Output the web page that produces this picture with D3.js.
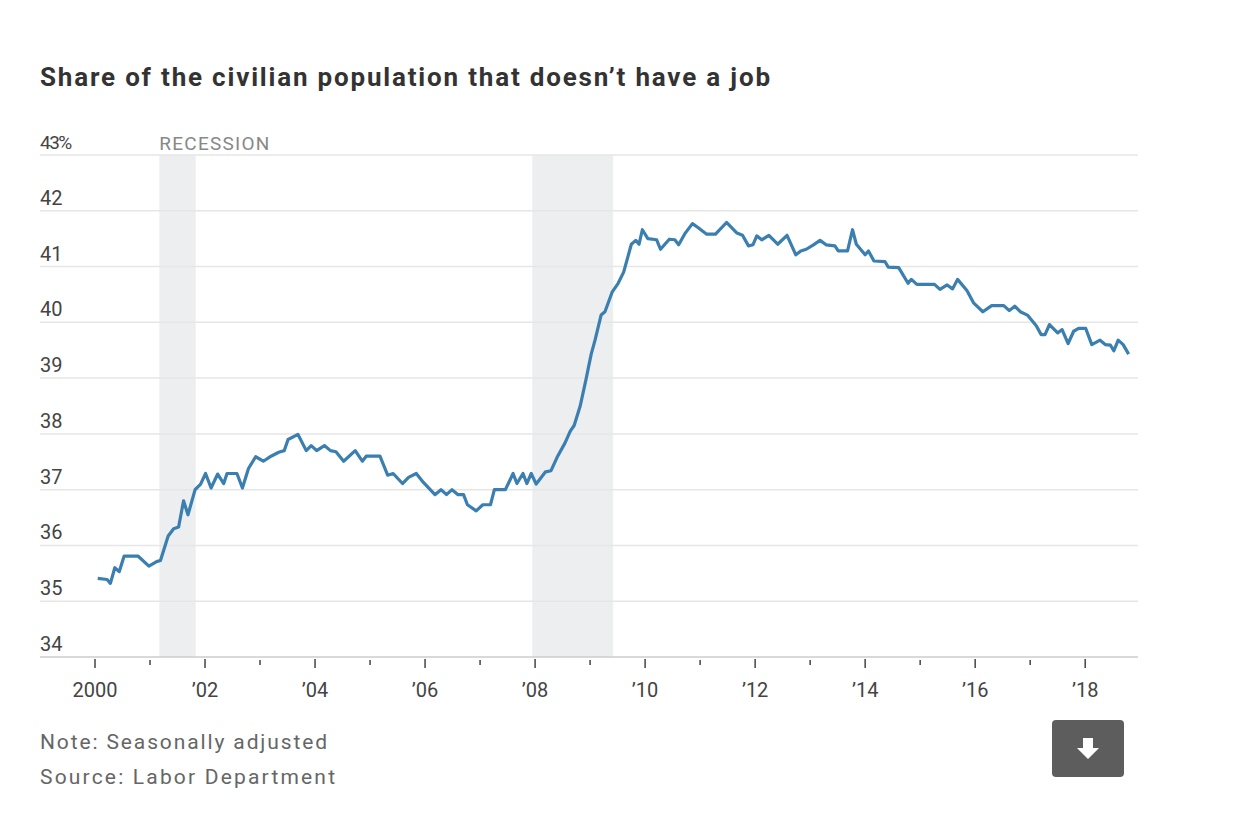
<!DOCTYPE html>
<html><head><meta charset="utf-8">
<script src="https://cdn.jsdelivr.net/npm/d3@7"></script>
<style>body{margin:0;background:#fff}</style></head>
<body><svg id="c" width="1242" height="820"></svg>
<script>
const years = [2000.05,2000.22,2000.28,2000.36,2000.44,2000.53,2000.78,2000.98,2001.12,2001.19,2001.33,2001.43,2001.52,2001.61,2001.69,2001.82,2001.92,2002.01,2002.11,2002.23,2002.34,2002.40,2002.58,2002.68,2002.79,2002.92,2003.06,2003.2,2003.34,2003.44,2003.51,2003.69,2003.84,2003.93,2004.03,2004.17,2004.28,2004.38,2004.52,2004.73,2004.86,2004.93,2005.18,2005.32,2005.42,2005.59,2005.7,2005.84,2005.97,2006.18,2006.29,2006.39,2006.49,2006.6,2006.7,2006.77,2006.93,2007.05,2007.19,2007.26,2007.46,2007.6,2007.67,2007.78,2007.85,2007.93,2008.02,2008.19,2008.29,2008.4,2008.54,2008.64,2008.71,2008.82,2008.92,2009.02,2009.09,2009.2,2009.27,2009.4,2009.51,2009.61,2009.75,2009.83,2009.89,2009.95,2010.05,2010.21,2010.28,2010.44,2010.54,2010.61,2010.73,2010.86,2010.96,2011.12,2011.28,2011.48,2011.67,2011.77,2011.88,2011.96,2012.03,2012.12,2012.25,2012.41,2012.58,2012.74,2012.83,2012.93,2013.06,2013.18,2013.29,2013.45,2013.51,2013.68,2013.77,2013.84,2014.0,2014.06,2014.16,2014.36,2014.42,2014.61,2014.78,2014.84,2014.94,2015.26,2015.36,2015.49,2015.59,2015.68,2015.85,2015.97,2016.14,2016.3,2016.52,2016.62,2016.72,2016.82,2016.95,2017.11,2017.2,2017.27,2017.35,2017.5,2017.58,2017.69,2017.79,2017.88,2018.01,2018.12,2018.27,2018.37,2018.46,2018.52,2018.6,2018.69,2018.79];
const values = [35.41,35.39,35.32,35.6,35.53,35.81,35.81,35.63,35.71,35.73,36.17,36.3,36.33,36.8,36.55,37.0,37.1,37.29,37.03,37.28,37.11,37.29,37.29,37.03,37.38,37.59,37.51,37.6,37.67,37.7,37.9,37.99,37.7,37.79,37.7,37.79,37.7,37.68,37.51,37.7,37.51,37.6,37.6,37.26,37.29,37.11,37.22,37.29,37.13,36.91,37.0,36.91,37.0,36.91,36.91,36.73,36.62,36.73,36.73,37.0,37.0,37.29,37.11,37.29,37.11,37.29,37.1,37.32,37.34,37.58,37.83,38.05,38.15,38.5,38.95,39.43,39.68,40.13,40.19,40.54,40.7,40.9,41.4,41.47,41.4,41.66,41.5,41.48,41.31,41.49,41.48,41.39,41.6,41.77,41.7,41.58,41.58,41.79,41.6,41.56,41.37,41.39,41.55,41.48,41.56,41.4,41.56,41.21,41.28,41.31,41.39,41.47,41.39,41.37,41.28,41.28,41.66,41.4,41.21,41.28,41.1,41.09,40.99,40.98,40.7,40.77,40.68,40.68,40.59,40.67,40.6,40.77,40.57,40.35,40.19,40.3,40.3,40.21,40.29,40.19,40.13,39.94,39.78,39.78,39.96,39.81,39.87,39.62,39.84,39.89,39.89,39.6,39.68,39.6,39.59,39.49,39.68,39.6,39.43];
const recessions = [[2001.17,2001.83],[2007.95,2009.42]];
const yTicks = [34,35,36,37,38,39,40,41,42,43];
const xTicks = [2000,2001,2002,2003,2004,2005,2006,2007,2008,2009,2010,2011,2012,2013,2014,2015,2016,2017,2018];

const svg = d3.select('#c');
const x = d3.scaleLinear().domain([2000,2018.96]).range([95,1138]);
const y = d3.scaleLinear().domain([34,43]).range([657,155]);
const F = 'Roboto, "Noto Sans", sans-serif';

svg.append('text').attr('x',40).attr('y',86).attr('font-family',F).attr('font-weight','bold')
  .attr('font-size',26).attr('fill','#333').attr('textLength',730).attr('lengthAdjust','spacing')
  .text('Share of the civilian population that doesn’t have a job');

svg.selectAll('.rec').data(recessions).enter().append('rect')
  .attr('x',d=>x(d[0])).attr('width',d=>x(d[1])-x(d[0])).attr('y',155).attr('height',657-155).attr('fill','#eceef0');
svg.append('text').attr('x',x(recessions[0][0])).attr('y',150).attr('font-family',F).attr('font-size',19)
  .attr('fill','#888').attr('textLength',110).text('RECESSION');

svg.selectAll('.g').data(yTicks).enter().append('line')
  .attr('x1',40).attr('x2',1138).attr('y1',d=>y(d)).attr('y2',d=>y(d))
  .attr('stroke',d=>d===34?'#ccc':'#e6e6e6').attr('stroke-width',1.5);
svg.selectAll('.yl').data(yTicks).enter().append('text')
  .attr('x',40).attr('y',d=>y(d)-6).attr('font-family',F).attr('font-size',d=>d===43?19:20)
  .attr('fill','#444').attr('letter-spacing',d=>d===43?-1.5:0).text(d=>d===43?'43%':d);

svg.selectAll('.t').data(xTicks).enter().append('line')
  .attr('x1',d=>x(d)).attr('x2',d=>x(d)).attr('y1',d=>d%2===0?659:660).attr('y2',d=>d%2===0?668:665)
  .attr('stroke','#444').attr('stroke-width',1.5);
svg.selectAll('.xl').data(xTicks.filter(d=>d%2===0)).enter().append('text')
  .attr('x',d=>x(d)).attr('y',697).attr('text-anchor','middle').attr('font-family',F).attr('font-size',20)
  .attr('fill','#444').text(d=>d===2000?'2000':'’'+String(d).slice(2));

const pts = years.map((yr,i)=>[yr,values[i]]);
svg.append('path').datum(pts).attr('fill','none').attr('stroke','#3a7fb0').attr('stroke-width',3.2)
  .attr('stroke-linejoin','round').attr('d',d3.line().x(d=>x(d[0])).y(d=>y(d[1])));

svg.append('text').attr('x',40).attr('y',749).attr('font-family',F).attr('font-size',21).attr('fill','#666')
  .attr('textLength',287).text('Note: Seasonally adjusted');
svg.append('text').attr('x',40).attr('y',784).attr('font-family',F).attr('font-size',21).attr('fill','#666')
  .attr('textLength',295).text('Source: Labor Department');

const b = svg.append('g').attr('transform','translate(1052,720)');
b.append('rect').attr('width',72).attr('height',57).attr('rx',4).attr('fill','#5d5d5d');
b.append('path').attr('d','M31,18 h10 v10 h6 l-11,11 l-11,-11 h6 z').attr('fill','#fff');
</script></body></html>
